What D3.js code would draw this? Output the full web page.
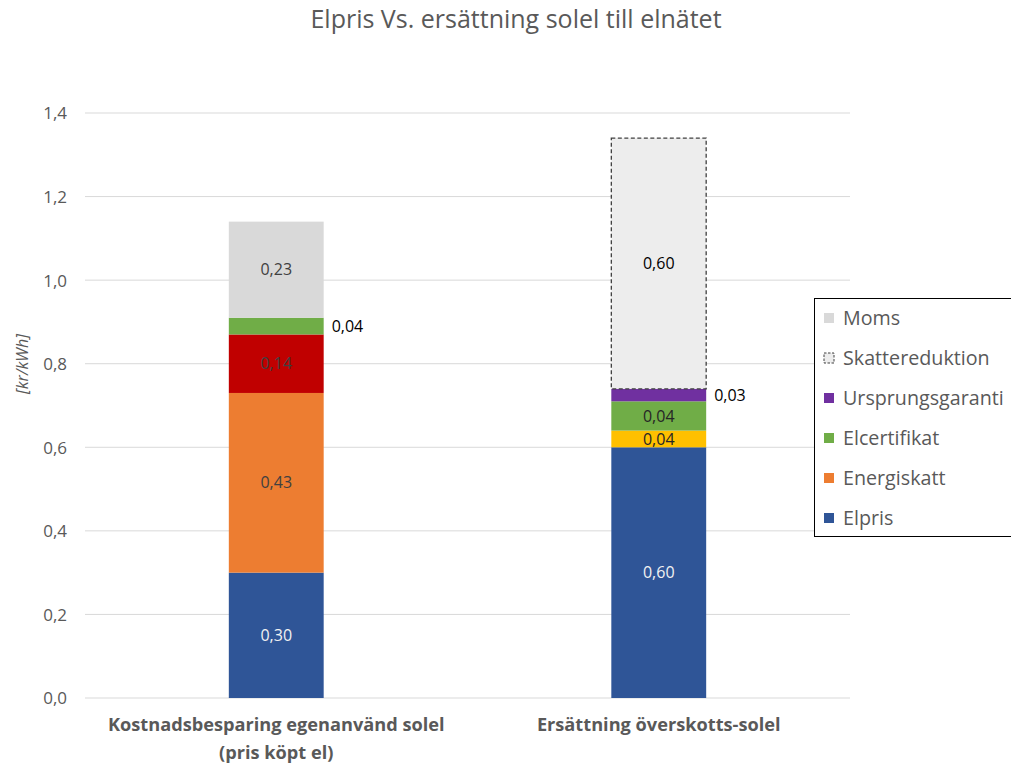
<!DOCTYPE html>
<html><head><meta charset="utf-8">
<script src="https://cdn.jsdelivr.net/npm/d3@7"></script>
<style>body{margin:0;background:#fff;font-family:"Open Sans",sans-serif;}</style>
</head><body><svg id="c" width="1011" height="767"></svg>
<script>
const categories = [["Kostnadsbesparing egenanvänd solel","(pris köpt el)"],["Ersättning överskotts-solel"]];
const seriesNames = ["Elpris","Energiskatt","Nätavgift","Nätnytta","Elcertifikat","Ursprungsgaranti","Moms","Skattereduktion"];
const elpris = [0.30, 0.60];
const energiskatt = [0.43, 0];
const natavgift = [0.14, 0];
const natnytta = [0, 0.04];
const elcertifikat = [0.04, 0.07];
const ursprungsgaranti = [0, 0.03];
const moms = [0.23, 0];
const skattereduktion = [0, 0.60];
const labels = {
  "Elpris": ["0,30","0,60"],
  "Energiskatt": ["0,43",null],
  "Nätavgift": ["0,14",null],
  "Nätnytta": [null,"0,04"],
  "Elcertifikat": ["0,04","0,04"],
  "Ursprungsgaranti": [null,"0,03"],
  "Moms": ["0,23",null],
  "Skattereduktion": [null,"0,60"]
};
const legendOrder = ["Moms","Skattereduktion","Ursprungsgaranti","Elcertifikat","Energiskatt","Elpris"];
const yTicks = [0,0.2,0.4,0.6,0.8,1.0,1.2,1.4];

const FONT = "'Open Sans',sans-serif";
const colors = {"Elpris":"#2f5597","Energiskatt":"#ed7d31","Nätavgift":"#c00000","Nätnytta":"#ffc000","Elcertifikat":"#70ad47","Ursprungsgaranti":"#7030a0","Moms":"#d9d9d9","Skattereduktion":"#ededed"};
const labelColors = {"Elpris":"#f2f2f2","Energiskatt":"#404040","Nätavgift":"#404040","Nätnytta":"#262626","Elcertifikat":"#262626","Ursprungsgaranti":"#262626","Moms":"#404040","Skattereduktion":"#000000"};
const outside = {"Elcertifikat":[true,false],"Ursprungsgaranti":[false,true]};

const valueArrays = {"Elpris":elpris,"Energiskatt":energiskatt,"Nätavgift":natavgift,"Nätnytta":natnytta,"Elcertifikat":elcertifikat,"Ursprungsgaranti":ursprungsgaranti,"Moms":moms,"Skattereduktion":skattereduktion};
const table = categories.map((c,i)=>{const o={idx:i}; seriesNames.forEach(s=>o[s]=valueArrays[s][i]); return o;});
const stacked = d3.stack().keys(seriesNames)(table);

const svg = d3.select("#c");
const x = d3.scaleBand().domain(categories.map((c,i)=>i)).range([85,850]).padding(0);
const y = d3.scaleLinear().domain([0,1.4]).range([698,113]);
const barW = x.bandwidth()*0.248;

// grid
svg.append("g").selectAll("line").data(yTicks).join("line")
  .attr("x1",85).attr("x2",850).attr("y1",d=>y(d)).attr("y2",d=>y(d))
  .attr("stroke","#d9d9d9").attr("stroke-width",1);

// y axis labels
const yAxis = d3.axisLeft(y).tickValues(yTicks).tickSize(0).tickPadding(0)
  .tickFormat(d=>d3.format(".1f")(d).replace(".",","));
const ya = svg.append("g").attr("transform","translate(67,0)").call(yAxis);
ya.select(".domain").remove();
ya.selectAll("text").attr("font-family",FONT).attr("font-size",17).attr("fill","#595959").attr("dy","0.35em");

// bars
const g = svg.append("g");
stacked.forEach(layer=>{
  const key = layer.key;
  layer.forEach((d,i)=>{
    if (d[1]-d[0] <= 0) return;
    const x0 = x(i)+(x.bandwidth()-barW)/2;
    const r = g.append("rect").attr("x",x0).attr("width",barW)
      .attr("y",y(d[1])).attr("height",y(d[0])-y(d[1])).attr("fill",colors[key]);
    if (key==="Skattereduktion") r.attr("stroke","#404040").attr("stroke-width",1.3).attr("stroke-dasharray","4,2.5");
  });
});
// labels
stacked.forEach(layer=>{
  const key = layer.key;
  layer.forEach((d,i)=>{
    const t = labels[key][i];
    if (!t || d[1]-d[0]<=0) return;
    const out = outside[key] && outside[key][i];
    const cx = x(i)+x.bandwidth()/2;
    const cy = (y(d[0])+y(d[1]))/2;
    svg.append("text").attr("x", out ? cx+barW/2+8 : cx).attr("y",cy).attr("dy","0.35em")
      .attr("text-anchor", out?"start":"middle")
      .attr("font-family",FONT).attr("font-size",16)
      .attr("fill", out?"#000000":labelColors[key]).text(t);
  });
});

// category labels
categories.forEach((lines,i)=>{
  const cx = x(i)+x.bandwidth()/2;
  lines.forEach((ln,j)=>{
    svg.append("text").attr("x",cx).attr("y",731+j*28).attr("text-anchor","middle")
      .attr("font-family",FONT).attr("font-weight","bold").attr("font-size",18.2)
      .attr("fill","#595959").text(ln);
  });
});

// title
svg.append("text").attr("x",516).attr("y",28).attr("text-anchor","middle")
  .attr("font-family",FONT).attr("font-size",25).attr("fill","#595959")
  .text("Elpris Vs. ersättning solel till elnätet");

// y title
svg.append("text").attr("transform","translate(28,364) rotate(-90)").attr("text-anchor","middle")
  .attr("font-family",FONT).attr("font-style","italic").attr("font-size",16).attr("fill","#595959")
  .text("[kr/kWh]");

// legend
const lg = svg.append("g");
lg.append("rect").attr("x",814.5).attr("y",298.5).attr("width",210).attr("height",238)
  .attr("fill","#fff").attr("stroke","#000").attr("stroke-width",1);
legendOrder.forEach((k,i)=>{
  const yy = 318+i*40;
  const sw = lg.append("rect").attr("x",824).attr("y",yy-5).attr("width",10).attr("height",10).attr("fill",colors[k]);
  if (k==="Skattereduktion") sw.attr("fill","#ededed").attr("stroke","#404040").attr("stroke-width",1).attr("stroke-dasharray","2.5,1.5");
  lg.append("text").attr("x",843).attr("y",yy).attr("dy","0.35em")
    .attr("font-family",FONT).attr("font-size",19.7).attr("fill","#595959").text(k);
});
</script></body></html>
